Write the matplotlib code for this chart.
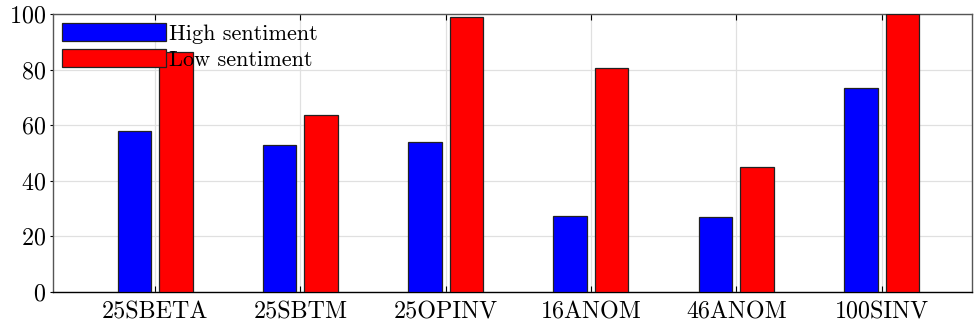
import matplotlib
matplotlib.use("Agg")
import matplotlib.pyplot as plt
import numpy as np

categories = ["25SBETA", "25SBTM", "25OPINV", "16ANOM", "46ANOM", "100SINV"]
high_sentiment = [58.0, 52.8, 54.0, 27.4, 27.0, 73.3]
low_sentiment = [86.3, 63.6, 99.0, 80.6, 45.0, 100.0]
series_labels = ["High sentiment", "Low sentiment"]

plt.rcParams["font.family"] = ["cmr10", "DejaVu Serif"]
plt.rcParams["axes.formatter.use_mathtext"] = True

fig = plt.figure(figsize=(9.74, 3.26), dpi=100)
ax = fig.add_axes([53/974, 1 - 292/326, (972-53)/974, (292-14)/326])

x = np.arange(1, len(categories) + 1)
w = 0.23
off = 0.143
ax.bar(x - off, high_sentiment, w, color="#0000ff", edgecolor="#222222", linewidth=0.9,
       label=series_labels[0], zorder=3)
ax.bar(x + off, low_sentiment, w, color="#ff0000", edgecolor="#222222", linewidth=0.9,
       label=series_labels[1], zorder=3)

ax.set_xlim(0.298, 6.622)
ax.set_ylim(0, 100)
ax.set_xticks(x)
ax.set_xticklabels(categories)
ax.set_yticks([0, 20, 40, 60, 80, 100])
ax.grid(True, color="#e0e0e0", linewidth=0.9, zorder=0)
ax.set_axisbelow(True)
ax.tick_params(axis="x", direction="in", length=4, width=0.8, labelsize=17.3,
               top=True, pad=7)
ax.tick_params(axis="y", direction="out", length=2, width=0.8, labelsize=17.3,
               right=False, pad=3)
for s in ax.spines.values():
    s.set_color("#555555")
    s.set_linewidth(1.0)
ax.spines["bottom"].set_color("black")

leg = ax.legend(loc="upper left", frameon=False, fontsize=16, handlelength=4.7,
                handleheight=0.86, handletextpad=0.1, labelspacing=0.25,
                borderaxespad=0.2, borderpad=0.2)

fig.savefig("out.png", dpi=100)
